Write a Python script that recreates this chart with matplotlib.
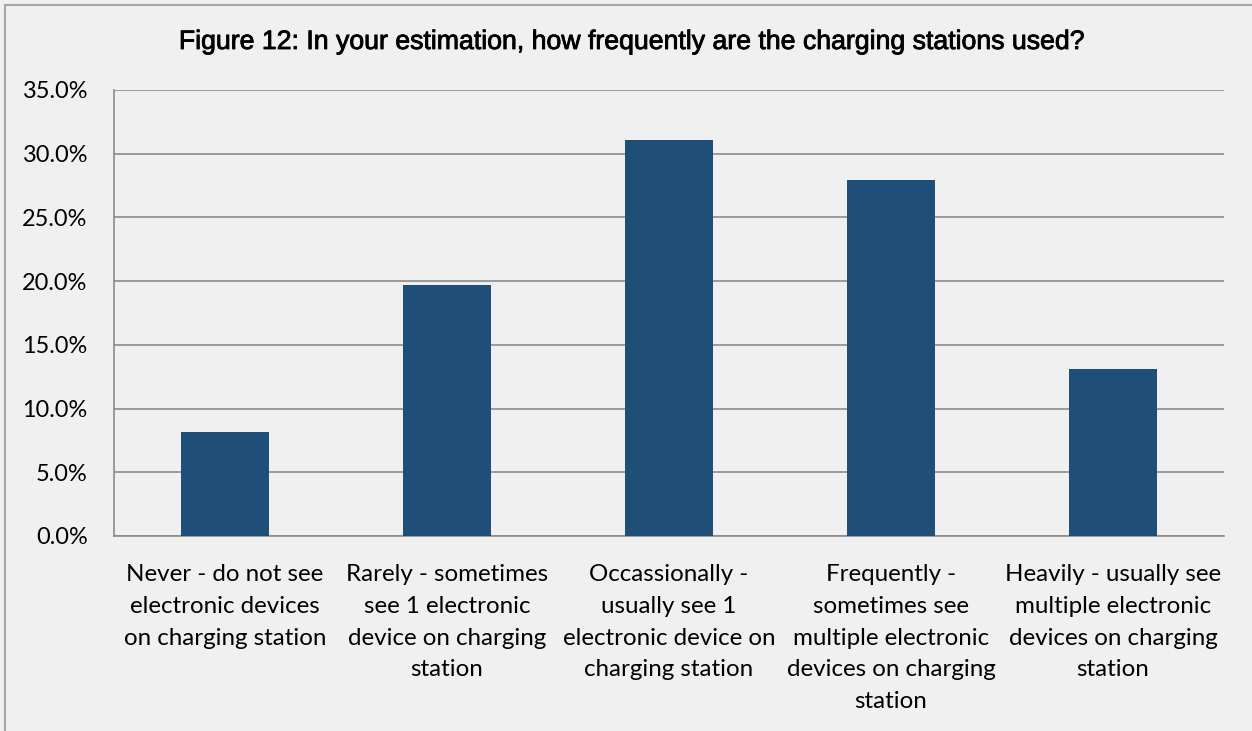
import matplotlib
matplotlib.use("Agg")
import matplotlib.pyplot as plt
import matplotlib.patheffects as pe
from matplotlib.patches import Rectangle
from matplotlib.ticker import FuncFormatter, MultipleLocator

categories = [
    "Never - do not see\nelectronic devices\non charging station",
    "Rarely - sometimes\nsee 1 electronic\ndevice on charging\nstation",
    "Occassionally -\nusually see 1\nelectronic device on\ncharging station",
    "Frequently -\nsometimes see\nmultiple electronic\ndevices on charging\nstation",
    "Heavily - usually see\nmultiple electronic\ndevices on charging\nstation",
]
shares = [8.2, 19.7, 31.1, 27.9, 13.1]
title = "Figure 12: In your estimation, how frequently are the charging stations used?"

W, H = 1252, 731
bg = "#f0f0f0"
bar_color = "#1f4e79"
grid_color = "#8c8c8c"

fig = plt.figure(figsize=(W / 100, H / 100), dpi=100, facecolor=bg)

# outer chart border (open to the right and bottom edges)
fig.patches.append(Rectangle((5 / W, -0.05), 1.2, (H - 5) / H + 0.05,
                             transform=fig.transFigure, fill=False,
                             edgecolor="#a6a6a6", linewidth=1.5))

ax = fig.add_axes([114 / W, (H - 536) / H, (1224 - 114) / W, (536 - 90) / H])
ax.set_facecolor(bg)

x = range(len(categories))
ax.bar(x, shares, width=0.4, color=bar_color, zorder=3)

ax.set_xlim(-0.5, len(categories) - 0.5)
ax.set_ylim(0, 35)
ax.yaxis.set_major_locator(MultipleLocator(5))
ax.yaxis.set_major_formatter(FuncFormatter(lambda v, p: f"{v:.1f}%"))
ax.grid(axis="y", color=grid_color, linewidth=1.2, zorder=0)

for side in ("top", "right"):
    ax.spines[side].set_visible(False)
for side in ("left", "bottom"):
    ax.spines[side].set_color(grid_color)
    ax.spines[side].set_linewidth(1.2)

ax.set_xticks(list(x))
ax.set_xticklabels(categories, fontfamily="Lato", fontsize=17.4,
                   linespacing=1.64, color="#000000")
ax.tick_params(axis="x", length=0, pad=20)
ax.tick_params(axis="y", length=0, pad=19, labelsize=16.9, labelcolor="#000000")
for lbl in ax.get_yticklabels():
    lbl.set_fontfamily("Lato")

fig.text(631 / W, 1 - 42 / H, title, ha="center", va="center",
         fontfamily="Liberation Sans", fontsize=19.2, color="#000000",
         path_effects=[pe.withStroke(linewidth=0.6, foreground="#000000")])

fig.savefig("out.png", dpi=100, facecolor=bg)
